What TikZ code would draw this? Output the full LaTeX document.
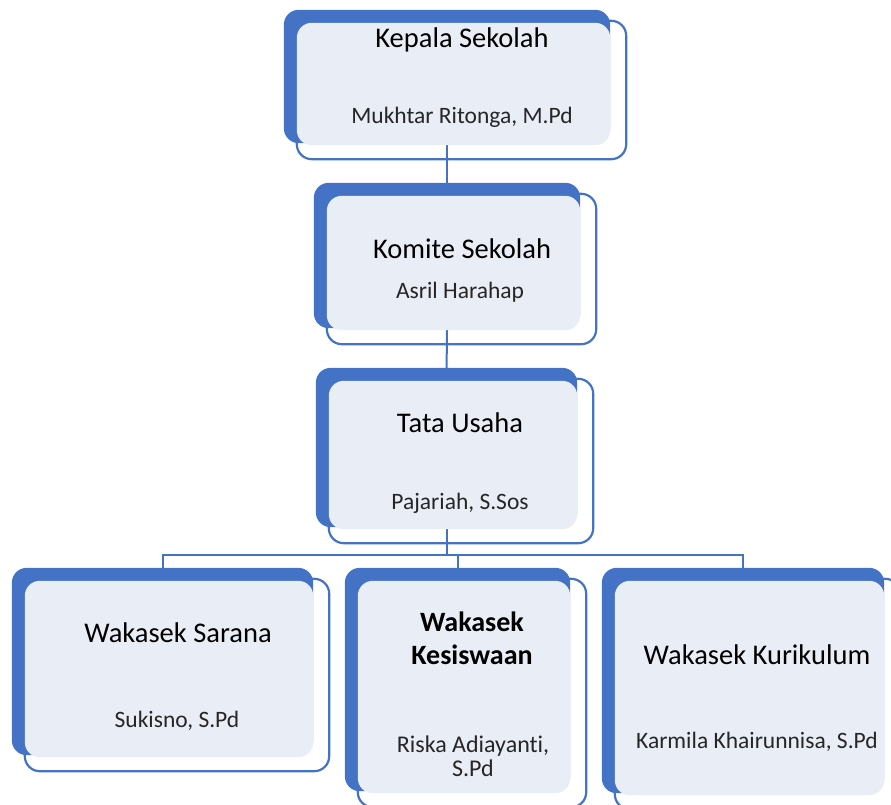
\documentclass[tikz,border=0pt]{standalone}
\usepackage{fontspec}
\setmainfont{Carlito}[Ligatures=NoCommon]
\usetikzlibrary{calc}
\definecolor{accent}{HTML}{4472C4}
\definecolor{pale}{HTML}{E9EDF6}
\tikzset{
  slot/.style={inner sep=0pt},
  back/.style={fill=accent,rounded corners=15pt},
  frame/.style={draw=accent,line width=2.2pt,rounded corners=15pt},
  front/.style={fill=pale,rounded corners=15pt},
  link/.style={draw=accent,line width=2pt},
  title/.style={font=\fontsize{28.5}{33}\selectfont,align=center},
  who/.style={font=\fontsize{23.5}{25}\selectfont,align=center,text=black!85}
}
% dark back, outline and light card round a slot node
\newcommand{\orgcard}[1]{%
  \fill[back](#1.north west)rectangle(#1.south east);
  \draw[frame]($(#1.north west)+(13,11)$)rectangle($(#1.south east)+(16,16)$);
  \fill[front]($(#1.north west)+(13,13)$)rectangle($(#1.south east)+(0,2)$);}
\begin{document}
\begin{tikzpicture}[x=1pt,y=-1pt]
        \clip(0,0)rectangle(891,805);
        \node[slot,minimum width=326,minimum height=133](kepala)at(447,76.5){};
        \node[slot,minimum width=266,minimum height=145](komite)at(447,255.5){};
        \node[slot,minimum width=261,minimum height=159](tata)at(446.5,447.5){};
        \node[slot,minimum width=301,minimum height=187](sarana)at(162.5,661.5){};
        \node[slot,minimum width=225,minimum height=223](kesiswaan)at(457.5,679.5){};
        \node[slot,minimum width=282,minimum height=225](kurikulum)at(743,680.5){};
        % connectors first, cards go over them
        \draw[link](kepala)--(komite);
        \draw[link](komite)--(tata);
        \draw[link](tata.south)--++(0,28)coordinate(bus);
        \draw[link](sarana.north)--(sarana.north|-bus)--(kurikulum.north|-bus)--(kurikulum.north);
        \draw[link](kesiswaan.north)--(kesiswaan.north|-bus);
        \foreach \n in {kepala,komite,tata,sarana,kesiswaan,kurikulum}{\orgcard{\n}}
        \node[title](t1)at(462,40){Kepala Sekolah};
        \node[who](s1)at(462,117){Mukhtar Ritonga, M.Pd};
        \node[title](t2)at(462,249){Komite Sekolah};
        \node[who](s2)at(460,292){Asril Harahap};
        \node[title](t3)at(460,423){Tata Usaha};
        \node[who](s3)at(460,503){Pajariah, S.Sos};
        \node[title](t4)at(178,633){Wakasek Sarana};
        \node[who](s4)at(177,721){Sukisno, S.Pd};
        \node[title,font=\bfseries\fontsize{28}{33}\selectfont](t5)at(472,638){Wakasek\\Kesiswaan};
        \node[who,font=\fontsize{24}{24}\selectfont](s5)at(473,756){Riska Adiayanti,\\S.Pd};
        \node[title](t6)at(757,655){Wakasek Kurikulum};
        \node[who](s6)at(757,742){Karmila Khairunnisa, S.Pd};
\end{tikzpicture}
\end{document}
